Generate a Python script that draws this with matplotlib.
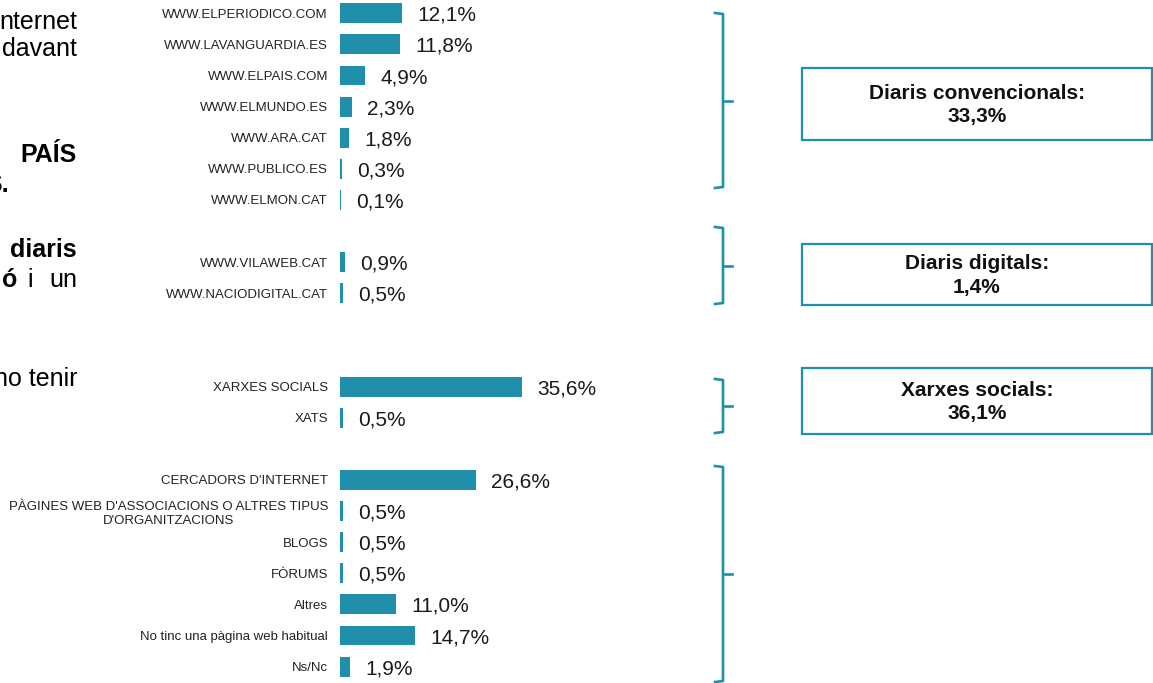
import matplotlib.pyplot as plt
from matplotlib.patches import Rectangle

plt.rcParams['font.family'] = ['Liberation Sans', 'DejaVu Sans']

# data
conv_labels = ['WWW.ELPERIODICO.COM', 'WWW.LAVANGUARDIA.ES', 'WWW.ELPAIS.COM',
               'WWW.ELMUNDO.ES', 'WWW.ARA.CAT', 'WWW.PUBLICO.ES', 'WWW.ELMON.CAT']
conv_values = [12.1, 11.8, 4.9, 2.3, 1.8, 0.3, 0.1]
digital_labels = ['WWW.VILAWEB.CAT', 'WWW.NACIODIGITAL.CAT']
digital_values = [0.9, 0.5]
social_labels = ['XARXES SOCIALS', 'XATS']
social_values = [35.6, 0.5]
other_labels = ["CERCADORS D'INTERNET",
                "PÀGINES WEB D'ASSOCIACIONS O ALTRES TIPUS\nD'ORGANITZACIONS",
                'BLOGS', 'FÒRUMS', 'Altres', 'No tinc una pàgina web habitual', 'Ns/Nc']
other_values = [26.6, 0.5, 0.5, 0.5, 11.0, 14.7, 1.9]

group_titles = ['Diaris convencionals:', 'Diaris digitals:', 'Xarxes socials:']
group_totals = ['33,3%', '1,4%', '36,1%']

# layout (pixels)
W, H = 1153, 683
TEAL = '#1f8faa'
bar_left = 340
px_per_pct = 5.12
row0, row_step = 13.3, 31.11
gaps_before = [0, 1, 2, 1]

fig = plt.figure(figsize=(W / 100, H / 100), dpi=100)

# overlay in pixel coordinates for the decorations
ov = fig.add_axes([0, 0, 1, 1])
ov.set_xlim(0, W)
ov.set_ylim(H, 0)
ov.axis('off')

ax = fig.add_axes([bar_left / W, 0, (700 - bar_left) / W, 1], zorder=2)
ax.patch.set_visible(False)
ax.set_xlim(0, (700 - bar_left) / px_per_pct)
ax.set_ylim((H - row0) / row_step, -row0 / row_step)
for s in ax.spines.values():
    s.set_visible(False)
ax.set_xticks([])

groups = [(conv_labels, conv_values), (digital_labels, digital_values),
          (social_labels, social_values), (other_labels, other_values)]
pos, labels, values = [], [], []
slot = 0
for (labs, vals), g in zip(groups, gaps_before):
    slot += g
    for l, v in zip(labs, vals):
        pos.append(slot)
        labels.append(l)
        values.append(v)
        slot += 1

ax.barh(pos, values, height=0.64, color=TEAL, edgecolor='none')
ax.set_yticks(pos)
ax.set_yticklabels(labels, fontsize=9.5, color='#222222')
ax.tick_params(axis='y', length=0, pad=8.6)
for t in ax.get_yticklabels():
    if '\n' in t.get_text():
        t.set_multialignment('center')
        t.set_linespacing(1.25)

for p, v in zip(pos, values):
    ax.annotate(f'{v:.1f}'.replace('.', ',') + '%', xy=(v, p), xytext=(11, -1.5),
                textcoords='offset points', va='center', ha='left',
                fontsize=15, color='#1a1a1a')

# brackets
brackets = [(13, 188), (227, 304), (379, 433), (466, 682)]
bx = 723
for y0, y1 in brackets:
    ym = (y0 + y1) / 2
    ov.plot([715, bx, bx, 715], [y0, y0 + 1, y1 - 1, y1], color=TEAL, lw=1.9,
            solid_joinstyle='round')
    ov.plot([bx, 732], [ym, ym], color=TEAL, lw=1.9)

# summary boxes
boxes = [(68, 140), (244, 305), (368, 434)]
for (y0, y1), title, total in zip(boxes, group_titles, group_totals):
    ov.add_patch(Rectangle((802, y0), 1152 - 802, y1 - y0, fill=False,
                           edgecolor=TEAL, lw=1.6))
    ov.text(977, (y0 + y1) / 2 + 1, f'{title}\n{total}', ha='center', va='center',
            fontsize=15, fontweight='bold', linespacing=1.3, color='#111111')

# cut-off paragraph text on the left
para = [('nternet', 77, 29, 'normal'), ('davant', 77, 56, 'normal'),
        ('PAÍS', 77, 162, 'bold'), ('S.', 9, 192, 'bold'),
        ('diaris', 77, 257, 'bold'), ('no tenir', 77, 386, 'normal')]
for txt, x, y, w in para:
    ov.text(x, y, txt, ha='right', va='baseline', fontsize=18, fontweight=w,
            color='black')
ov.text(17, 287, 'ó', ha='right', va='baseline', fontsize=18, fontweight='bold')
ov.text(30, 287, 'i', ha='center', va='baseline', fontsize=18)
ov.text(77, 287, 'un', ha='right', va='baseline', fontsize=18)

fig.savefig('out.png', dpi=100)
